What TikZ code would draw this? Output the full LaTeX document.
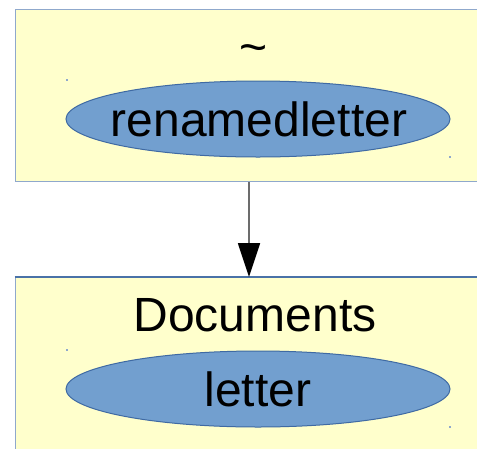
\documentclass[tikz,border=0pt]{standalone}
\usepackage{fontspec}
\setmainfont{Liberation Sans}
\usetikzlibrary{arrows.meta,shapes.geometric}
\definecolor{panelfill}{HTML}{FFFFCC}
\definecolor{panelline}{HTML}{8FA8CC}
\definecolor{panellinedark}{HTML}{4A72A8}
\definecolor{ovalfill}{HTML}{729FCF}
\definecolor{ovalline}{HTML}{3F6AA3}
\tikzset{
  panel/.style={draw=panelline, line width=1.2pt, fill=panelfill, rectangle,
    anchor=north west, inner sep=0pt, minimum width=500pt},
  oval/.style={ellipse, draw=ovalline, line width=1pt, fill=ovalfill,
    minimum width=384pt, minimum height=76pt, inner sep=0pt},
  label/.style={font=\fontsize{48}{58}\selectfont, text=black, anchor=base, inner sep=0pt},
  link/.style={draw=gray!85!black, line width=1.8pt,
    -{Triangle[length=34pt,width=22pt,fill=black,color=black]}},
  speck/.style={fill=panelline, minimum size=1.2pt, inner sep=0pt, rectangle}
}
\begin{document}
\begin{tikzpicture}[x=1pt,y=-1pt]
  \useasboundingbox (0,0) rectangle (477,448);
  \clip (0,0) rectangle (477,448);

  % home directory panel
  \node[panel, minimum height=172pt] (home) at (14.5,9) {};
  \node[oval] (homeoval) at (258,119) {};
  \node[label] (homename) at (254,63) {\textasciitilde};
  \node[label] (homefile) at (259,136) {renamedletter};
  \node[speck] (hs1) at (67,80) {};
  \node[speck] (hs2) at (450,157) {};

  % Documents panel, running past the lower edge
  \node[panel, minimum height=260pt] (docs) at (14.5,277) {};
  \draw[panellinedark, line width=1.2pt] (docs.north west) -- (docs.north east);
  \node[oval] (docsoval) at (258,389) {};
  \node[label] (docsname) at (255,331) {Documents};
  \node[label] (docsfile) at (258,406) {letter};
  \node[speck] (ds1) at (67,350) {};
  \node[speck] (ds2) at (450,427) {};

  % link between the two panels
  \coordinate (linkx) at (249,0);
  \draw[link] (home.south -| linkx) -- (docs.north -| linkx);
\end{tikzpicture}
\end{document}
